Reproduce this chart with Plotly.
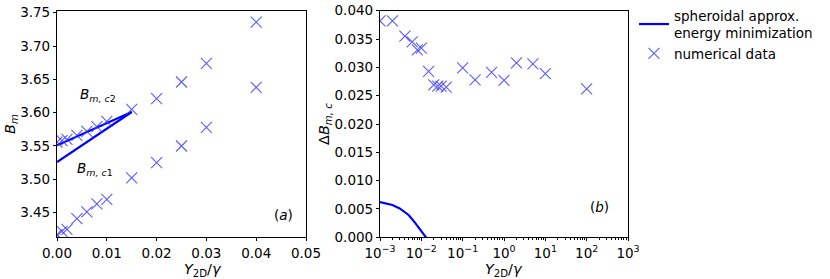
import plotly.graph_objects as go

# ---- data ----
x_num_a = [0.0, 0.001, 0.002, 0.004, 0.006, 0.008, 0.01, 0.015, 0.02, 0.025, 0.03, 0.04]
bm_c2_num = [3.556, 3.558, 3.560, 3.566, 3.572, 3.579, 3.587, 3.605, 3.621, 3.646, 3.674, 3.736]
bm_c1_num = [3.417, 3.422, 3.425, 3.441, 3.451, 3.463, 3.470, 3.502, 3.525, 3.550, 3.578, 3.638]

x_line_a = [0.0, 0.003, 0.006, 0.009, 0.012, 0.015]
bm_c2_line = [3.551, 3.561, 3.571, 3.581, 3.591, 3.601]
bm_c1_line = [3.526, 3.541, 3.556, 3.571, 3.586, 3.601]

x_num_b = [0.001, 0.002, 0.004, 0.006, 0.008, 0.01, 0.015, 0.02, 0.025, 0.03, 0.04,
           0.1, 0.2, 0.5, 1, 2, 5, 10, 100]
dbm_num = [0.0382, 0.0382, 0.0355, 0.0345, 0.0331, 0.0334, 0.0293, 0.0269, 0.0267, 0.0267, 0.0265,
           0.0299, 0.0278, 0.0291, 0.0277, 0.0308, 0.0306, 0.0289, 0.0262]

x_line_b = [0.001, 0.002, 0.003, 0.004, 0.005, 0.007, 0.009, 0.011, 0.013]
dbm_line = [0.0062, 0.0057, 0.0051, 0.0045, 0.0039, 0.0026, 0.0015, 0.0006, 0.0]

yticks_a = [3.45, 3.50, 3.55, 3.60, 3.65, 3.70, 3.75]
xticks_a = [0.0, 0.01, 0.02, 0.03, 0.04, 0.05]
yticks_b = [0.0, 0.005, 0.01, 0.015, 0.02, 0.025, 0.03, 0.035, 0.04]
xticks_b = [1e-3, 1e-2, 1e-1, 1, 10, 100, 1000]
xtick_text_b = ["10<sup>−3</sup>", "10<sup>−2</sup>", "10<sup>−1</sup>", "10<sup>0</sup>",
                "10<sup>1</sup>", "10<sup>2</sup>", "10<sup>3</sup>"]

FONT = "DejaVu Sans"
FS = 13.5
FT = 14.5
BLUE = "#0000ff"
MARK = "rgba(50,50,255,0.8)"

fig = go.Figure()

marker = dict(symbol="x-thin-open", size=11, color=MARK, line=dict(width=1.1, color=MARK))

# panel (a)
fig.add_trace(go.Scatter(x=x_line_a, y=bm_c2_line, mode="lines", line=dict(color=BLUE, width=2.2),
                         name="spheroidal approx.<br>energy minimization", xaxis="x", yaxis="y"))
fig.add_trace(go.Scatter(x=x_line_a, y=bm_c1_line, mode="lines", line=dict(color=BLUE, width=2.2),
                         xaxis="x", yaxis="y", showlegend=False))
fig.add_trace(go.Scatter(x=x_num_a, y=bm_c2_num, mode="markers", marker=marker,
                         name="numerical data", xaxis="x", yaxis="y"))
fig.add_trace(go.Scatter(x=x_num_a, y=bm_c1_num, mode="markers", marker=marker,
                         xaxis="x", yaxis="y", showlegend=False))

# panel (b)
fig.add_trace(go.Scatter(x=x_line_b, y=dbm_line, mode="lines", line=dict(color=BLUE, width=2.2),
                         xaxis="x2", yaxis="y2", showlegend=False))
fig.add_trace(go.Scatter(x=x_num_b, y=dbm_num, mode="markers", marker=marker,
                         xaxis="x2", yaxis="y2", showlegend=False))

W, H = 830, 279
xa = (57 / W, 306 / W)
xb = (380 / W, 628 / W)
yd = (1 - 237.3 / H, 1 - 10.7 / H)

axis_common = dict(showline=True, linecolor="black", linewidth=1.2, mirror=True,
                   ticks="outside", ticklen=3, tickwidth=1, tickcolor="black",
                   showgrid=False, zeroline=False, automargin=False,
                   tickfont=dict(family=FONT, size=FS, color="black"))

xtitle = "<i>Y</i><sub>2D</sub>/<i>γ</i>"
tfont = dict(family=FONT, size=FT, color="black")
ymid = 1 - 124 / H
ytit = 1 - 259 / H

fig.update_layout(
    width=W, height=H,
    margin=dict(l=0, r=0, t=0, b=0),
    plot_bgcolor="white", paper_bgcolor="white",
    font=dict(family=FONT, size=FS, color="black"),
    xaxis=dict(domain=xa, range=[0, 0.05], tickvals=xticks_a,
               ticktext=[f"{v:.2f}" for v in xticks_a], anchor="y", **axis_common),
    yaxis=dict(domain=yd, range=[3.413, 3.753], tickvals=yticks_a,
               ticktext=[f"{v:.2f}" for v in yticks_a], anchor="x", **axis_common),
    xaxis2=dict(domain=xb, type="log", range=[-3, 3], tickvals=xticks_b, ticktext=xtick_text_b,
                anchor="y2",
                minor=dict(ticks="outside", ticklen=2, tickcolor="black", dtick="D1", showgrid=False),
                **axis_common),
    yaxis2=dict(domain=yd, range=[0, 0.04], tickvals=yticks_b,
                ticktext=[f"{v:.3f}" for v in yticks_b], anchor="x2", **axis_common),
    legend=dict(x=634 / W, y=1.0, xanchor="left", yanchor="top",
                font=dict(family=FONT, size=FS), bgcolor="rgba(0,0,0,0)",
                tracegroupgap=0, itemwidth=30),
    showlegend=True,
    annotations=[
        # axis titles
        dict(text=xtitle, x=(xa[0] + xa[1]) / 2, y=ytit, xref="paper", yref="paper",
             showarrow=False, font=tfont, yanchor="top"),
        dict(text=xtitle, x=(xb[0] + xb[1]) / 2, y=ytit, xref="paper", yref="paper",
             showarrow=False, font=tfont, yanchor="top"),
        dict(text="<i>B<sub>m</sub></i>", x=11 / W, y=ymid, xref="paper", yref="paper",
             showarrow=False, font=tfont, textangle=-90, xanchor="center"),
        dict(text="Δ<i>B<sub>m, c</sub></i>", x=325 / W, y=ymid, xref="paper", yref="paper",
             showarrow=False, font=tfont, textangle=-90, xanchor="center"),
        # in-plot labels
        dict(text="<i>B<sub>m, c</sub></i><sub>2</sub>", x=0.0083, y=3.626, xref="x", yref="y",
             showarrow=False, font=dict(family=FONT, size=FS)),
        dict(text="<i>B<sub>m, c</sub></i><sub>1</sub>", x=0.0077, y=3.516, xref="x", yref="y",
             showarrow=False, font=dict(family=FONT, size=FS)),
        dict(text="(<i>a</i>)", x=0.0455, y=3.447, xref="x", yref="y",
             showarrow=False, font=dict(family=FONT, size=FS)),
        dict(text="(<i>b</i>)", x=2.3, y=0.0053, xref="x2", yref="y2",
             showarrow=False, font=dict(family=FONT, size=FS)),
    ],
)

fig.write_html("out.html", config={"displayModeBar": False},
               post_script="document.body.style.margin='0';document.body.style.padding='0';")
